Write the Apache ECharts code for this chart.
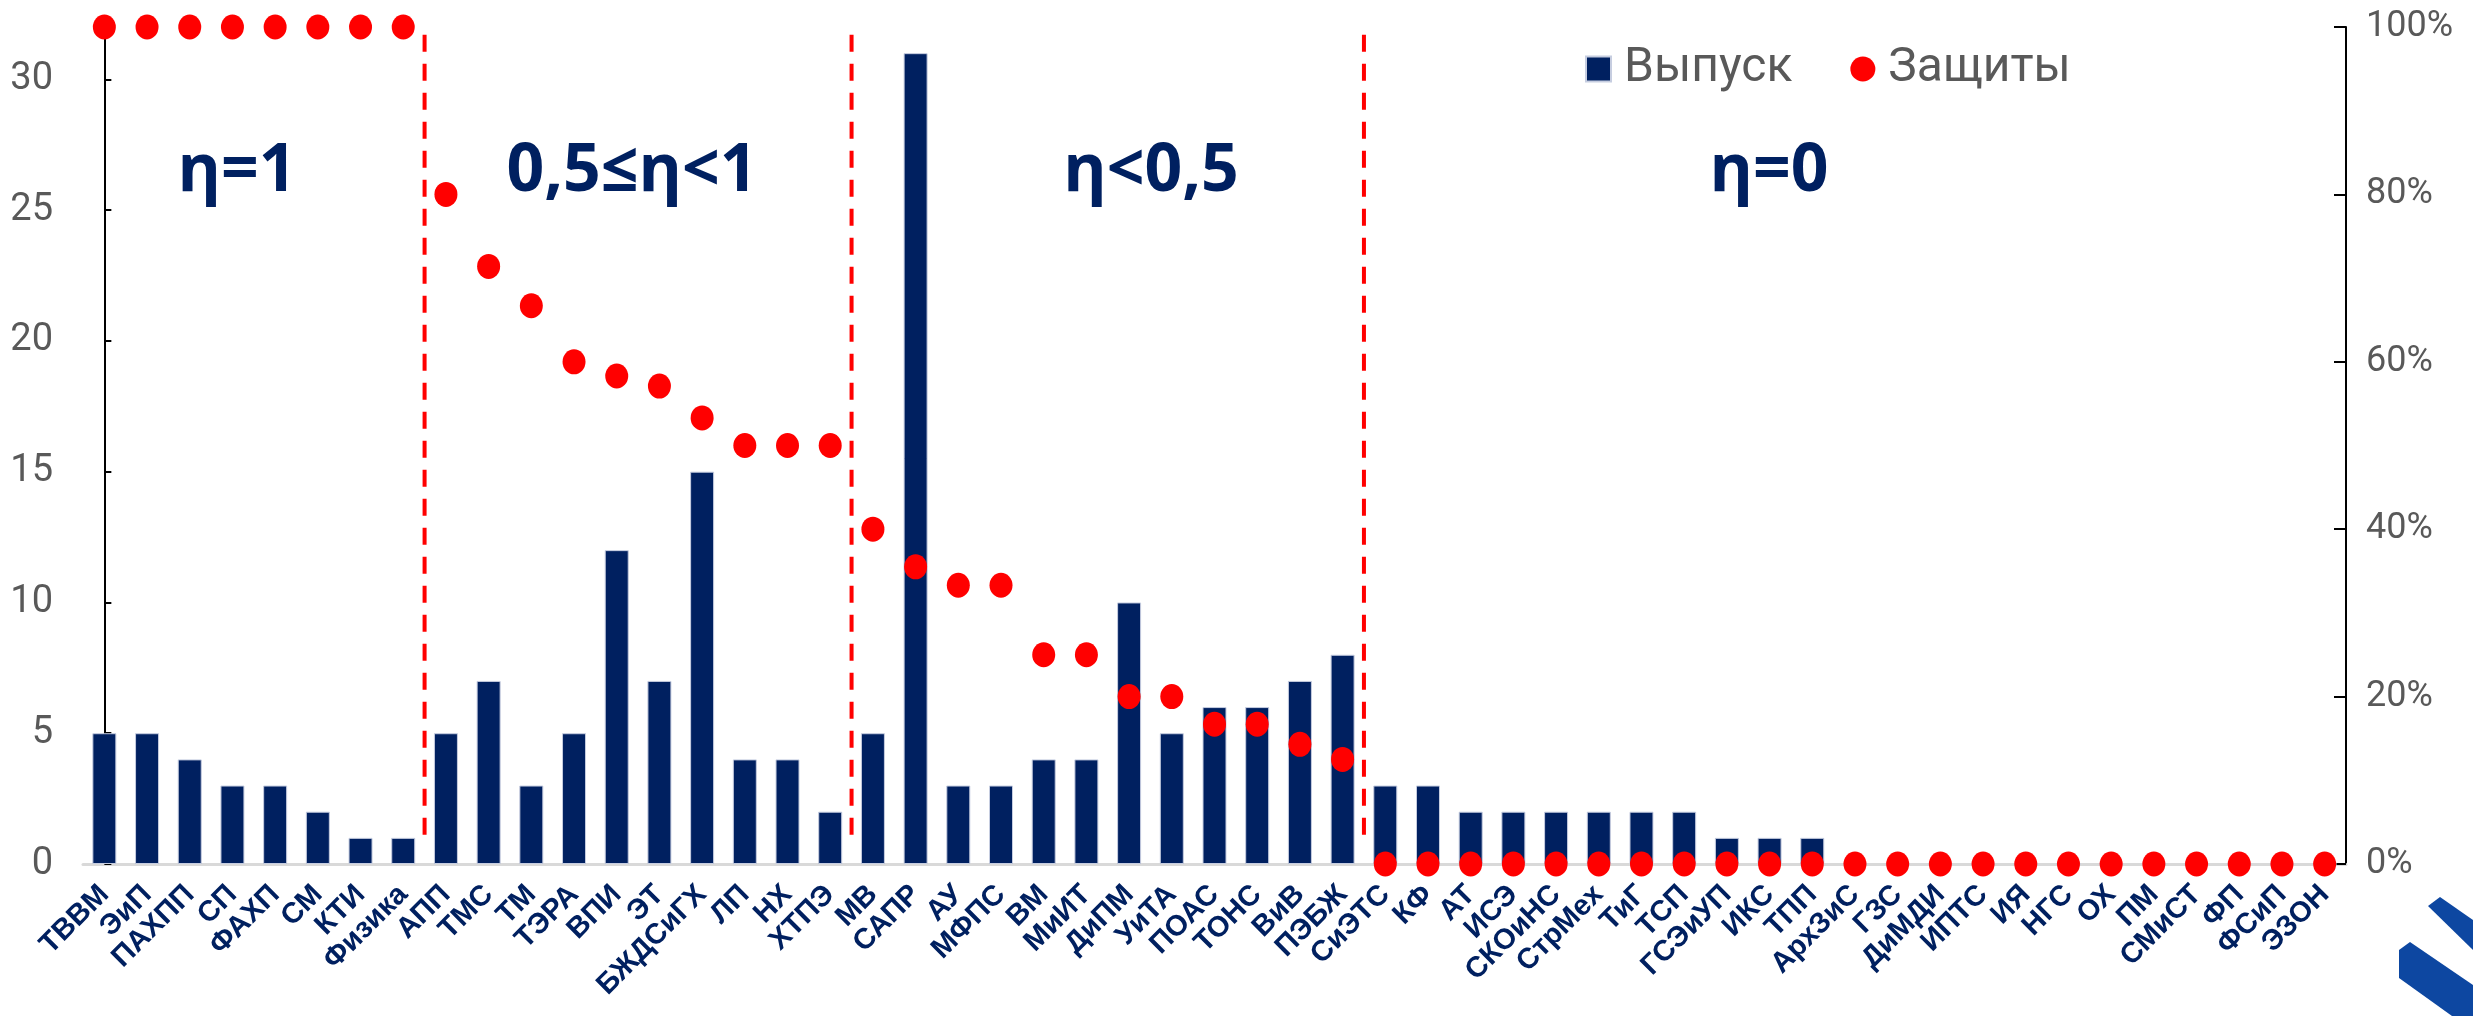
<!DOCTYPE html>
<html lang="ru">
<head>
  <meta charset="UTF-8">
  <title>Выпуск и защиты</title>
  <script src="https://cdn.jsdelivr.net/npm/echarts@6/dist/echarts.min.js"></script>
  <style>
    html, body { margin: 0; padding: 0; background: #fff; }
  </style>
</head>
<body>
<div id="main" style="width: 2473px;height:1016px;"></div>
<script type="text/javascript">

// кафедры
const categories = [
  'ТВВМ', 'ЭиП', 'ПАХПП', 'СП', 'ФАХП', 'СМ', 'КТИ', 'Физика',
  'АПП', 'ТМС', 'ТМ', 'ТЭРА', 'ВПИ', 'ЭТ', 'БЖДСиГХ', 'ЛП', 'НХ', 'ХТПЭ',
  'МВ', 'САПР', 'АУ', 'МФПС', 'ВМ', 'МиИТ', 'ДиПМ', 'УиТА', 'ПОАС', 'ТОНС', 'ВиВ', 'ПЭБЖ',
  'СиЭТС', 'КФ', 'АТ', 'ИСЭ', 'СКОиНС', 'СтрМех', 'ТиГ', 'ТСП', 'ГСЭиУП', 'ИКС', 'ТПП',
  'АрхЗиС', 'ГЗС', 'ДиМДИ', 'ИПТС', 'ИЯ', 'НГС', 'ОХ', 'ПМ', 'СМиСТ', 'ФП', 'ФСиП', 'ЭЗОН'
];

// выпуск, чел.
const vypusk = [
  5, 5, 4, 3, 3, 2, 1, 1,
  5, 7, 3, 5, 12, 7, 15, 4, 4, 2,
  5, 31, 3, 3, 4, 4, 10, 5, 6, 6, 7, 8,
  3, 3, 2, 2, 2, 2, 2, 2, 1, 1, 1,
  0, 0, 0, 0, 0, 0, 0, 0, 0, 0, 0, 0
];

// доля защит, %
const zashchity = [
  100, 100, 100, 100, 100, 100, 100, 100,
  80, 71.4, 66.7, 60, 58.3, 57.1, 53.3, 50, 50, 50,
  40, 35.5, 33.3, 33.3, 25, 25, 20, 20, 16.7, 16.7, 14.3, 12.5,
  0, 0, 0, 0, 0, 0, 0, 0, 0, 0, 0,
  0, 0, 0, 0, 0, 0, 0, 0, 0, 0, 0, 0
];

// границы групп (между категориями) и подписи групп
const groupBorders = [7.5, 17.5, 29.5];
const groupLabels = ['η=1', '0,5≤η<1', 'η<0,5', 'η=0'];
const leftTicks = [0, 5, 10, 15, 20, 25, 30];
const rightTicks = ['0%', '20%', '40%', '60%', '80%', '100%'];

const navy = '#002060';
const red = '#ff0000';
const gray = '#595959';

const myChart = echarts.init(document.getElementById('main'));

const borderSeries = groupBorders.map(function (x) {
  return {
    type: 'line',
    xAxisIndex: 1,
    yAxisIndex: 1,
    data: [[x, 3.5], [x, 100]],
    symbol: 'none',
    silent: true,
    z: 1,
    lineStyle: {color: red, width: 4, type: [17, 12]}
  };
});

const labelX = [237, 632, 1151, 1769];
const graphics = groupLabels.map(function (t, i) {
  return {
    type: 'text',
    x: labelX[i],
    y: 172,
    style: {
      text: t,
      fill: navy,
      font: 'bold 66px "Open Sans", sans-serif',
      textAlign: 'center',
      textVerticalAlign: 'middle'
    }
  };
});
// логотип в углу (обрезан)
graphics.push(
  {type: 'polygon', shape: {points: [[2428, 906], [2440, 897], [2473, 920], [2473, 950]]}, style: {fill: '#0d47a1'}},
  {type: 'polygon', shape: {points: [[2399, 950], [2410, 942], [2473, 985], [2473, 1016], [2452, 1016], [2399, 978]]}, style: {fill: '#0d47a1'}}
);

const option = {
  animation: false,
  textStyle: {fontFamily: 'Roboto'},
  grid: {left: 83, right: 127, top: 27, bottom: 152},
  legend: {
    data: [{name: 'Выпуск', icon: 'rect'}, {name: 'Защиты', icon: 'circle'}],
    left: 1580,
    top: 40,
    itemWidth: 25,
    itemHeight: 25,
    itemGap: 58,
    textStyle: {fontSize: 48, color: gray, fontFamily: 'Roboto', padding: [0, 0, 0, 8]}
  },
  xAxis: [
    {
      type: 'category',
      data: categories,
      axisLine: {lineStyle: {color: '#d9d9d9', width: 3}},
      axisTick: {show: false},
      axisLabel: {
        interval: 0,
        rotate: 45,
        margin: 26,
        color: navy,
        fontWeight: 'bold',
        fontSize: 29,
        fontFamily: 'Liberation Sans'
      }
    },
    {
      type: 'value',
      min: -0.5,
      max: categories.length - 0.5,
      show: false
    }
  ],
  yAxis: [
    {
      type: 'value',
      min: 0,
      max: 32,
      interval: 5,
      splitLine: {show: false},
      axisLine: {show: true, lineStyle: {color: '#000', width: 2}},
      axisTick: {show: true, inside: true, length: 7, lineStyle: {color: '#000', width: 2}},
      axisLabel: {
        showMaxLabel: false,
        margin: 30,
        fontSize: 38,
        color: gray,
        formatter: function (v) { return leftTicks.indexOf(v) >= 0 ? String(v) : ''; }
      }
    },
    {
      type: 'value',
      min: 0,
      max: 100,
      interval: 20,
      splitLine: {show: false},
      axisLine: {show: true, lineStyle: {color: '#000', width: 2}},
      axisTick: {show: true, inside: true, length: 12, lineStyle: {color: '#000', width: 2}},
      axisLabel: {
        margin: 20,
        fontSize: 36,
        color: gray,
        formatter: function (v) { return rightTicks[v / 20]; }
      }
    }
  ],
  series: [
    {
      name: 'Выпуск',
      type: 'bar',
      data: vypusk,
      barWidth: 24,
      z: 2,
      itemStyle: {color: navy, borderColor: '#c6cde0', borderWidth: 1}
    }
  ].concat(borderSeries, [
    {
      name: 'Защиты',
      type: 'scatter',
      yAxisIndex: 1,
      data: zashchity,
      symbol: 'circle',
      symbolSize: [23, 25],
      z: 5,
      itemStyle: {color: red, opacity: 1}
    }
  ]),
  graphic: graphics
};
myChart.setOption(option);
</script>
</body>
</html>
